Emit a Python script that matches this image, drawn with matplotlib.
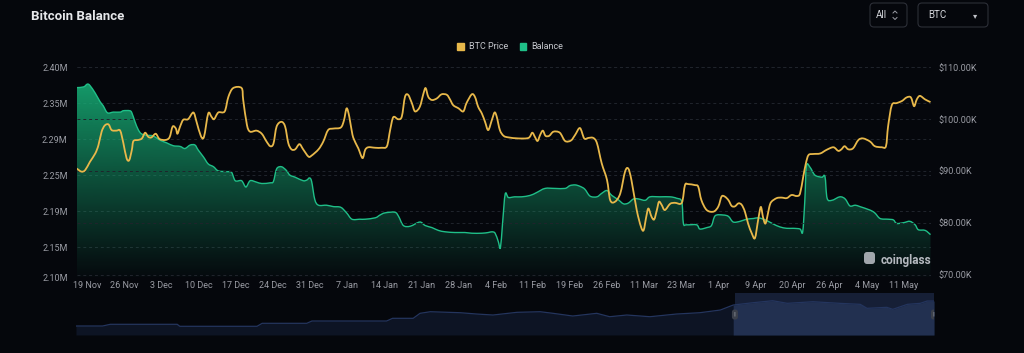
import matplotlib
matplotlib.use("Agg")
import matplotlib.pyplot as plt
import numpy as np
from matplotlib.patches import FancyBboxPatch, PathPatch, Patch, Rectangle
from matplotlib.path import Path

plt.rcParams['font.family'] = ['Roboto', 'DejaVu Sans']

# ---- data (x = category index of the daily axis, 0 = first day shown) ----
bal_idx = [0, 1.3, 2, 2.5, 3.5, 4.4, 5, 5.8, 6.9, 8.2, 8.8, 10, 10.4, 11, 11.6, 12.2,
           13.2, 14.4, 15.7, 17, 18.2, 19.5, 20.4, 21.4, 22.3, 22.9, 23.9, 24.8, 25.8,
           26.7, 28.3, 29.2, 29.9, 31.1, 31.9, 32.7, 33.9, 34.9, 36.5, 37.1, 37.7, 38.6,
           39.5, 40.2, 41.2, 42.7, 43.4, 43.9, 44.3, 44.9, 45.6, 47.1, 48.4, 49.8, 50.9,
           51.9, 53.4, 54.4, 56.3, 57.2, 58.1, 60, 60.7, 61.6, 62.9, 64.7, 65.7, 67, 68.2,
           69.5, 71.3, 73.2, 74.5, 76.4, 77.6, 78.3, 78.9, 79.5, 79.9, 80.3, 80.8, 81.4,
           82.6, 83.9, 85.5, 86.7, 88.3, 90.2, 92.1, 93, 94, 94.9, 95.8, 96.8, 98.1, 99,
           100, 100.9, 102.1, 103.1, 104, 105, 105.9, 107.2, 108.1, 110, 111.9, 113.1,
           114.1, 114.4, 115, 116.9, 117.5, 118.8, 119.7, 120.4, 121.9, 122.9, 123.8,
           125.1, 126.3, 127.6, 128.5, 129.5, 130.4, 131.4, 132.6, 133.9, 135.1, 136.4,
           136.9, 137.3, 137.6, 138.3, 139.2, 140.5, 141.1, 141.5, 142.4, 143.9, 144.9,
           145.8, 146.8, 147.7, 149.6, 150.5, 151.5, 153, 154, 154.6, 155.9, 157.1, 158.1,
           158.7, 160, 161]
bal_val = [2.371, 2.372, 2.376, 2.374, 2.363, 2.351, 2.345, 2.335, 2.336, 2.336, 2.338,
           2.338, 2.335, 2.322, 2.311, 2.305, 2.303, 2.302, 2.296, 2.292, 2.288, 2.287,
           2.284, 2.289, 2.289, 2.282, 2.272, 2.262, 2.258, 2.252, 2.251, 2.250, 2.238,
           2.238, 2.229, 2.238, 2.236, 2.234, 2.235, 2.237, 2.255, 2.258, 2.253, 2.246,
           2.243, 2.238, 2.239, 2.242, 2.237, 2.211, 2.203, 2.203, 2.201, 2.200, 2.192,
           2.183, 2.183, 2.183, 2.185, 2.189, 2.192, 2.193, 2.187, 2.174, 2.173, 2.179,
           2.174, 2.171, 2.167, 2.165, 2.164, 2.164, 2.163, 2.163, 2.164, 2.165, 2.163,
           2.151, 2.142, 2.177, 2.219, 2.214, 2.215, 2.215, 2.217, 2.221, 2.227, 2.227,
           2.227, 2.231, 2.232, 2.230, 2.226, 2.216, 2.215, 2.220, 2.224, 2.217, 2.211,
           2.205, 2.206, 2.212, 2.212, 2.210, 2.215, 2.215, 2.215, 2.213, 2.208, 2.177,
           2.175, 2.175, 2.169, 2.171, 2.174, 2.188, 2.189, 2.187, 2.179, 2.180, 2.183,
           2.184, 2.185, 2.183, 2.180, 2.176, 2.172, 2.170, 2.170, 2.169, 2.165, 2.210,
           2.259, 2.257, 2.246, 2.243, 2.244, 2.213, 2.210, 2.215, 2.212, 2.202, 2.203,
           2.201, 2.196, 2.192, 2.184, 2.183, 2.182, 2.177, 2.178, 2.180, 2.175, 2.168,
           2.167, 2.161]

price_idx = [0, 0.9, 1.6, 2.5, 3.5, 4.1, 4.7, 5.3, 6, 6.6, 7.5, 8.2, 8.8, 9.4, 9.9, 10.4,
             10.7, 11.6, 12.3, 12.9, 13.5, 14.1, 14.9, 15.6, 16.7, 17.5, 18.1, 18.7, 19,
             19.5, 20.1, 21, 22, 22.6, 23.4, 24, 24.8, 25.4, 25.9, 26.7, 27.9, 28.6, 29.5,
             31.1, 31.4, 32.1, 32.7, 33.9, 34.9, 35.8, 36.5, 37.1, 37.7, 38.6, 39.3, 39.9,
             40.5, 41.2, 42, 42.7, 43.7, 44.3, 45.6, 46.5, 47.4, 48.4, 49.8, 50.4, 50.9,
             51.4, 52, 52.6, 53.1, 53.9, 54.4, 55, 56.3, 57.5, 58.5, 59.1, 59.7, 60.6, 61.3,
             61.9, 62.5, 63.2, 63.8, 64.7, 65.4, 65.8, 66.3, 67, 67.9, 68.8, 69.8, 70.4, 71,
             72, 72.9, 73.5, 74.5, 75.1, 75.7, 76.4, 77, 77.6, 78.3, 78.8, 79.2, 79.8, 80.5,
             81.4, 83.3, 85.2, 85.9, 86.4, 86.9, 87.4, 87.9, 88.4, 89.1, 89.9, 91.1, 92.1,
             93.2, 94, 94.9, 95.7, 96.5, 97.4, 98.1, 99, 100, 100.6, 101.5, 102.5, 103.4,
             104, 104.6, 105.6, 106.4, 106.9, 107.4, 107.8, 108.4, 108.9, 109.4, 109.8,
             110.3, 110.9, 111.9, 112.8, 114.1, 114.7, 115.3, 116.6, 117.2, 117.8, 118.8,
             120.1, 121, 121.6, 122.2, 122.9, 123.5, 124.1, 124.8, 125.4, 126, 126.6, 127.3,
             127.9, 128.5, 129, 129.4, 129.8, 130.1, 130.6, 131, 132, 132.9, 133.9, 134.8,
             135.8, 136.4, 137, 137.5, 138, 138.9, 140.2, 141.4, 142.7, 143.6, 144.2, 144.8,
             145.5, 146.4, 147.4, 148.3, 149.6, 150.5, 151.8, 152.6, 153, 153.7, 154.6,
             155.6, 156.5, 157.3, 157.9, 158.4, 159, 160, 161]
price_val = [90.5, 89.9, 90.2, 91.8, 93.4, 95.0, 97.6, 98.8, 99.0, 97.9, 97.8, 97.8, 95.4,
             92.5, 92.1, 94.1, 95.8, 96.0, 96.3, 97.4, 96.6, 96.5, 97.2, 96.2, 96.0, 96.5,
             98.6, 98.2, 97.2, 98.6, 99.9, 100.0, 101.3, 99.5, 96.8, 96.6, 101.1, 100.5,
             100.0, 101.3, 101.5, 104.3, 106.0, 106.0, 103.7, 98.9, 97.6, 97.8, 97.2, 95.7,
             94.8, 95.3, 98.6, 99.5, 98.6, 95.4, 94.2, 94.2, 95.2, 94.2, 92.8, 93.0, 94.2,
             95.7, 97.9, 98.2, 98.4, 99.8, 102.1, 100.5, 97.0, 95.4, 94.4, 92.5, 94.1, 94.6,
             94.5, 94.5, 94.8, 97.9, 100.4, 100.0, 100.5, 104.3, 104.7, 103.1, 101.5, 102.4,
             105.0, 106.0, 104.3, 103.7, 104.0, 104.8, 104.7, 103.8, 102.7, 102.1, 101.5,
             103.1, 104.8, 104.3, 102.4, 101.1, 99.5, 97.9, 99.9, 101.3, 100.5, 97.9, 96.8,
             96.5, 96.3, 96.4, 97.4, 96.6, 95.8, 97.0, 97.8, 96.8, 96.8, 97.6, 97.4, 95.8,
             95.9, 97.0, 98.3, 96.3, 96.4, 96.4, 95.4, 91.5, 88.3, 84.4, 84.1, 85.7, 89.9,
             90.5, 88.3, 82.5, 79.3, 78.6, 81.2, 82.8, 81.2, 80.7, 82.5, 84.1, 83.5, 82.5,
             83.7, 83.9, 83.9, 87.3, 87.5, 87.3, 87.0, 84.4, 82.5, 82.2, 83.2, 85.1, 85.1,
             84.4, 83.3, 83.2, 83.8, 83.5, 82.2, 79.9, 78.0, 77.1, 80.6, 83.1, 81.2, 79.9,
             80.6, 83.1, 84.1, 84.8, 84.9, 84.8, 85.4, 85.2, 85.7, 88.9, 91.5, 93.1, 93.3,
             93.4, 94.1, 94.6, 93.9, 94.2, 94.8, 94.2, 94.4, 96.0, 96.3, 95.7, 94.8, 94.6,
             94.8, 98.6, 102.7, 103.1, 103.5, 104.2, 104.2, 102.5, 103.8, 104.5, 103.8, 103.3]

xtick_labels = ['19 Nov', '26 Nov', '3 Dec', '10 Dec', '17 Dec', '24 Dec', '31 Dec', '7 Jan',
                '14 Jan', '21 Jan', '28 Jan', '4 Feb', '11 Feb', '19 Feb', '26 Feb', '11 Mar',
                '23 Mar', '1 Apr', '9 Apr', '20 Apr', '26 Apr', '4 May', '11 May']
xtick_first, xtick_step = 2, 7

left_ticks = [2.10, 2.1429, 2.1943, 2.2457, 2.2971, 2.3486, 2.40]
left_labels = ['2.10M', '2.15M', '2.19M', '2.25M', '2.29M', '2.35M', '2.40M']
right_ticks = [70, 80, 90, 100, 110]
right_labels = ['$70.00K', '$80.00K', '$90.00K', '$100.00K', '$110.00K']

# overview strip of the zoom slider (position in % of slider width, height)
overview_pos = [0, 3.1, 4.0, 11.8, 12.1, 21.1, 21.7, 26.9, 27.5, 36.2, 36.9, 39.3, 40.1,
                41.3, 44.8, 46.7, 48.6, 51.4, 54.1, 55.6, 57.9, 60.7, 62.2, 64.2, 66.9,
                70.0, 72.7, 75.1, 76.6, 78.9, 81.2, 82.9, 85.9, 89.0, 91.4, 92.2, 94.5,
                95.2, 96.9, 98.4, 99.2, 100]
overview_val = [9, 9, 10.7, 10.7, 8.7, 8.7, 11.7, 11.7, 14, 14, 16.7, 16.7, 21.7, 23.3,
                22.3, 21, 20, 22.7, 23.3, 21.7, 19, 21.7, 18.3, 20, 18.3, 21, 22.3, 25, 30,
                32.3, 34.3, 31.7, 33.3, 31.7, 30.7, 26.7, 27.7, 25.7, 30.7, 31.7, 34, 34]
window_start, window_end = 76.8, 100

# ---- style ----
bg = '#05070c'
yellow = '#e8b84a'
green = '#1fbf88'
tick_color = '#9a9ca4'
grid_color = '#20242c'


def smooth_path(xs, ys, t=0.16):
    # bezier rendering through the read points (like a smoothed line series)
    pts = np.column_stack([xs, ys]).astype(float)
    n = len(pts)
    verts = [pts[0]]
    codes = [Path.MOVETO]
    for i in range(n - 1):
        p0 = pts[max(i - 1, 0)]
        p1 = pts[i]
        p2 = pts[i + 1]
        p3 = pts[min(i + 2, n - 1)]
        c1 = p1 + t * (p2 - p0)
        c2 = p2 - t * (p3 - p1)
        verts += [c1, c2, p2]
        codes += [Path.CURVE4] * 3
    return verts, codes


fig = plt.figure(figsize=(10.24, 3.53), dpi=100, facecolor=bg)
ax = fig.add_axes([0.0749, 0.2144, 0.8338, 0.5949])
ax.set_facecolor(bg)
n_last = 161
ax.set_xlim(0, n_last)
ax.set_ylim(2.10, 2.40)

# gradient area for balance
rgba = np.zeros((256, 1, 4))
rgba[..., 0] = 24 / 255
rgba[..., 1] = 185 / 255
rgba[..., 2] = 125 / 255
rgba[..., 3] = np.linspace(0.03, 0.85, 256).reshape(-1, 1) ** 1.1
im = ax.imshow(rgba, extent=[0, n_last, 2.10, 2.38], origin='lower', aspect='auto',
               zorder=1, interpolation='bilinear')
bv, bc = smooth_path(bal_idx, bal_val)
area_v = bv + [(bal_idx[-1], 2.10), (bal_idx[0], 2.10), (bal_idx[0], 2.10)]
area_c = bc + [Path.LINETO, Path.LINETO, Path.CLOSEPOLY]
clip = PathPatch(Path(area_v, area_c), transform=ax.transData, facecolor='none', edgecolor='none')
ax.add_patch(clip)
im.set_clip_path(clip)
ax.set_ylim(2.10, 2.40)
ax.add_patch(PathPatch(Path(bv, bc), transform=ax.transData, facecolor='none',
                       edgecolor=green, lw=1.0, zorder=2))

ax.set_yticks(left_ticks, left_labels)
xt = [xtick_first + xtick_step * k for k in range(len(xtick_labels))]
ax.set_xticks(xt, xtick_labels)
ax.tick_params(axis='both', length=0, colors=tick_color, labelsize=6.5)
ax.tick_params(axis='y', pad=6.5)
ax.tick_params(axis='x', pad=3)
for s in ax.spines.values():
    s.set_visible(False)
ax.grid(axis='y', color=grid_color, lw=0.7, linestyle=(0, (3, 3)))
ax.set_axisbelow(True)

ax2 = ax.twinx()
ax2.set_ylim(69.54, 110)
pv, pc = smooth_path(price_idx, price_val)
ax2.add_patch(PathPatch(Path(pv, pc), transform=ax2.transData, facecolor='none',
                        edgecolor=yellow, lw=1.3, zorder=3, joinstyle='round'))
ax2.set_yticks(right_ticks, right_labels)
ax2.tick_params(axis='y', length=0, colors=tick_color, labelsize=6.5, pad=5.5)
for s in ax2.spines.values():
    s.set_visible(False)
ax2.grid(axis='y', color=grid_color, lw=0.7, linestyle=(0, (3, 3)))
ax2.set_axisbelow(True)

# legend
fig.legend(handles=[Patch(color=yellow, label='BTC Price'), Patch(color=green, label='Balance')],
           loc='center', bbox_to_anchor=(0.498, 0.867), ncol=2, frameon=False, fontsize=6.5,
           labelcolor='#c5c7cd', handlelength=0.75, handleheight=0.75, columnspacing=1.3,
           handletextpad=0.5)

# zoom slider
sax = fig.add_axes([0.0742, 0.051, 0.8379, 0.118])
sax.set_facecolor(bg)
sax.set_xlim(0, 100)
sax.set_ylim(0, 41.7)
sax.axis('off')
sax.add_patch(Rectangle((window_start, 0), window_end - window_start, 41.7,
                        color='#161f36', lw=0, zorder=0))
sax.fill_between(overview_pos, overview_val, 0, color='#0d1424', lw=0, zorder=1)
ov_x = np.array(overview_pos)
sel = ov_x >= window_start - 0.5
sax.fill_between(ov_x[sel], np.array(overview_val)[sel], 0, color='#223050', lw=0, zorder=2)
sax.plot(overview_pos, overview_val, color='#24355e', lw=0.9, zorder=3)
for hx in (window_start, window_end):
    sax.add_patch(FancyBboxPatch((hx - 0.35, 15.5), 0.7, 10, boxstyle='round,pad=0,rounding_size=0.3',
                                 fc='#3b404b', ec='none', zorder=4, mutation_aspect=8))
    sax.text(hx, 20.7, '||', color='#a0a4ad', fontsize=4, ha='center', va='center', zorder=5)

# header decorations in pixel space
ov = fig.add_axes([0, 0, 1, 1], facecolor='none')
ov.set_xlim(0, 1024)
ov.set_ylim(353, 0)
ov.axis('off')
ov.text(31, 16, 'Bitcoin Balance', color='#e6e7ea', fontsize=9.5, fontweight='bold',
        va='center', ha='left')
for (x0, w) in [(870, 37), (918, 70)]:
    ov.add_patch(FancyBboxPatch((x0, 3), w, 24, boxstyle='round,pad=0,rounding_size=4',
                                fc='none', ec='#2c2f37', lw=0.8))
ov.text(876, 15.5, 'All', color='#d4d6db', fontsize=7, va='center', ha='left')
ov.plot([893, 895, 897], [13, 11, 13], color='#9a9ca4', lw=0.7)
ov.plot([893, 895, 897], [17.5, 19.5, 17.5], color='#9a9ca4', lw=0.7)
ov.text(928, 15.5, 'BTC', color='#d4d6db', fontsize=7, va='center', ha='left')
ov.text(975, 15.5, '▾', color='#c0c2c8', fontsize=6, va='center', ha='center',
        family='DejaVu Sans')

# watermark
ov.add_patch(FancyBboxPatch((864, 252), 11, 12, boxstyle='round,pad=0,rounding_size=3',
                            fc='#c9ccd3', ec='none', alpha=0.8))
ov.text(881, 260.5, 'coinglass', color='#c9ccd3', alpha=0.9, fontsize=8.5,
        fontweight='bold', va='center', ha='left')

fig.savefig('out.png', dpi=100, facecolor=bg)
